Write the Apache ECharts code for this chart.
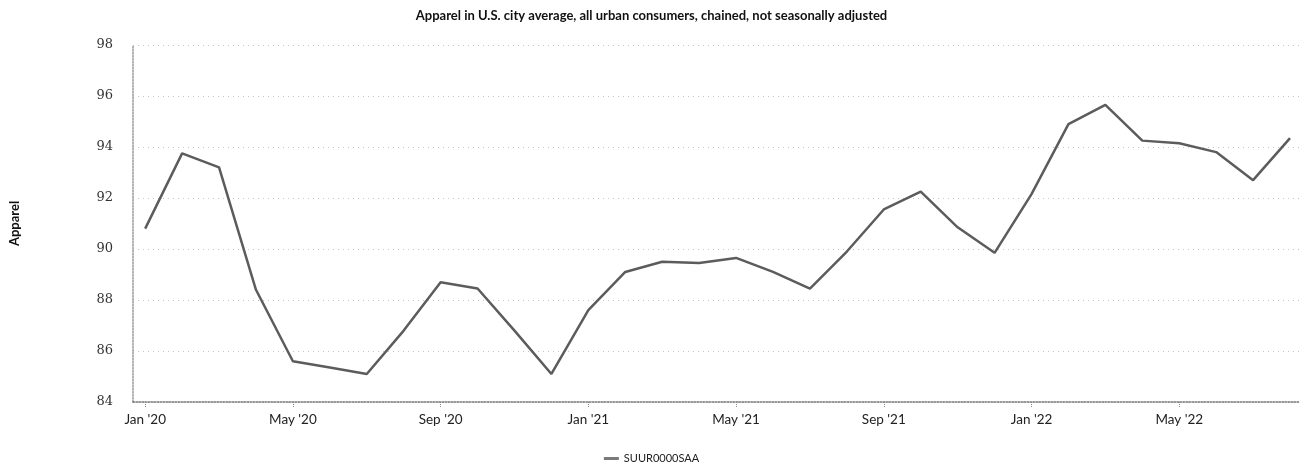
<!DOCTYPE html>
<html>
<head>
<meta charset="utf-8">
<title>Apparel CPI</title>
<script src="https://cdn.jsdelivr.net/npm/echarts@6/dist/echarts.min.js"></script>
<style>
  html, body { margin: 0; padding: 0; background: #fff; }
  #chart { width: 1303px; height: 473px; }
</style>
</head>
<body>
<div id="chart"></div>
<script>
// Monthly observations, Jan 2020 – Aug 2022
const months = [
  '2020-01','2020-02','2020-03','2020-04','2020-05','2020-06','2020-07','2020-08',
  '2020-09','2020-10','2020-11','2020-12','2021-01','2021-02','2021-03','2021-04',
  '2021-05','2021-06','2021-07','2021-08','2021-09','2021-10','2021-11','2021-12',
  '2022-01','2022-02','2022-03','2022-04','2022-05','2022-06','2022-07','2022-08'
];
const apparel = [
  90.8, 93.75, 93.2, 88.4, 85.6, 85.35, 85.1, 86.8,
  88.7, 88.45, 86.8, 85.1, 87.6, 89.1, 89.5, 89.45,
  89.65, 89.1, 88.45, 89.9, 91.55, 92.25, 90.85, 89.85,
  92.15, 94.9, 95.65, 94.25, 94.15, 93.8, 92.7, 94.35
];
// x-axis tick labels, every fourth month
const tickMonths = [0, 4, 8, 12, 16, 20, 24, 28];
const tickLabels = ["Jan '20", "May '20", "Sep '20", "Jan '21", "May '21", "Sep '21", "Jan '22", "May '22"];
const yTicks = [84, 86, 88, 90, 92, 94, 96, 98];

const seriesData = months.map((m, i) => [i, apparel[i]]);

const chart = echarts.init(document.getElementById('chart'));
chart.setOption({
  animation: false,
  backgroundColor: '#ffffff',
  title: {
    text: 'Apparel in U.S. city average, all urban consumers, chained, not seasonally adjusted',
    left: 'center',
    top: 4,
    textStyle: {
      fontFamily: 'Lato',
      fontWeight: 'bold',
      fontSize: 13,
      color: '#111'
    }
  },
  legend: {
    bottom: 4,
    left: 'center',
    itemWidth: 15,
    itemHeight: 3,
    itemGap: 4,
    icon: 'rect',
    data: ['SUUR0000SAA'],
    textStyle: {
      fontFamily: 'Lato',
      fontSize: 11,
      color: '#222'
    }
  },
  grid: {
    left: 133,
    right: 3,
    top: 45,
    bottom: 71
  },
  xAxis: {
    type: 'value',
    min: -0.33,
    max: 31.27,
    axisLine: {
      show: true,
      onZero: false,
      lineStyle: { color: '#777', type: 'dotted', width: 1.5 }
    },
    axisTick: {
      show: true,
      length: 6,
      customValues: tickMonths,
      lineStyle: { color: '#888', type: 'dotted' }
    },
    axisLabel: {
      customValues: tickMonths,
      formatter: v => tickLabels[tickMonths.indexOf(Math.round(v))] || '',
      fontFamily: 'Lato',
      fontSize: 13.5,
      color: '#222',
      margin: 11
    },
    splitLine: { show: false }
  },
  yAxis: {
    type: 'value',
    name: 'Apparel',
    nameLocation: 'middle',
    nameGap: 112,
    nameTextStyle: {
      fontFamily: 'Lato',
      fontWeight: 'bold',
      fontSize: 13,
      color: '#111'
    },
    min: yTicks[0],
    max: yTicks[yTicks.length - 1],
    interval: 2,
    axisLine: {
      show: true,
      onZero: false,
      lineStyle: { color: '#999', type: 'dotted', width: 1.5 }
    },
    axisTick: { show: false },
    axisLabel: {
      fontFamily: 'DejaVu Serif',
      fontSize: 13,
      color: '#333',
      margin: 20
    },
    splitLine: {
      show: true,
      lineStyle: { color: '#c4c4c4', type: [1, 4], width: 1 }
    }
  },
  series: [{
    name: 'SUUR0000SAA',
    type: 'line',
    data: seriesData,
    showSymbol: false,
    symbol: 'none',
    lineStyle: { color: '#5c5c5c', width: 2.5 },
    itemStyle: { color: '#7a7a7a' }
  }]
});
</script>
</body>
</html>
